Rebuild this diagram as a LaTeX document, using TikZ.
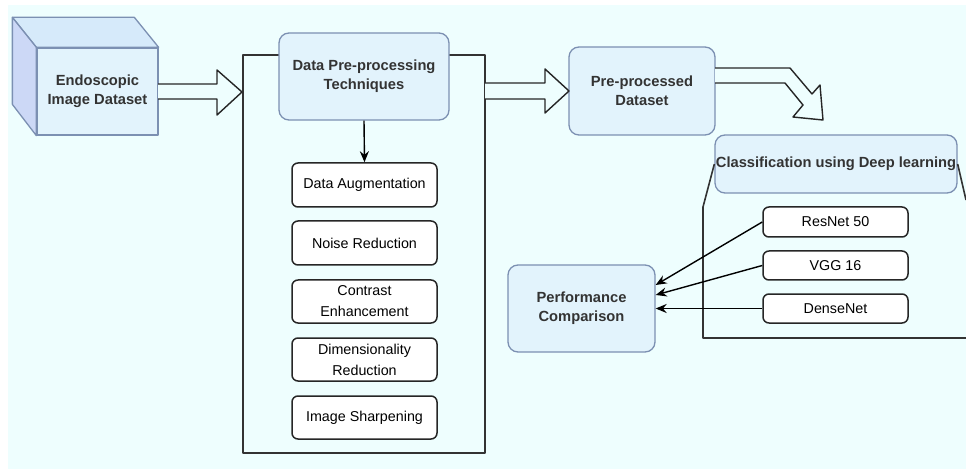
\documentclass[tikz,border=0pt]{standalone}
\usepackage{fontspec}
\setmainfont{Liberation Sans}
\usetikzlibrary{arrows.meta}
\definecolor{bgcyan}{HTML}{EEFEFE}
\definecolor{boxfill}{HTML}{E2F3FC}
\definecolor{boxline}{HTML}{7C90B2}
\definecolor{topface}{HTML}{D6EAFA}
\definecolor{sideface}{HTML}{CCD8F6}
\definecolor{labelgray}{HTML}{333333}
\begin{document}
\begin{tikzpicture}[x=1pt, y=-1pt, line join=round, >={Stealth[length=11pt, width=9pt]},
	bluebox/.style={draw=boxline, fill=boxfill, line width=1.3pt, rounded corners=10pt, align=center,
		text=labelgray, font=\fontsize{14.7}{19}\selectfont\bfseries, inner sep=0pt},
	stepbox/.style={draw=black!85, fill=white, line width=1.5pt, rounded corners=6pt, align=center,
		font=\fontsize{14.3}{21}\selectfont, minimum width=145pt, inner sep=0pt},
	frame/.style={draw=black!80, line width=1.6pt},
	blockarrow/.style={draw=black!85, fill=bgcyan, line width=1.4pt}]
	\fill[white] (0,0) rectangle (966,470);
	\fill[bgcyan] (8,5) rectangle (966,469);
	\useasboundingbox (0,0) rectangle (966,470);
	% input dataset cube
	\node[bluebox, rounded corners=0pt, minimum width=121pt, minimum height=87pt] (eid) at (97.5,91.5) {Endoscopic\\Image Dataset};
	\fill[topface, draw=boxline, line width=1.3pt] (eid.north west) -- ++(-24,-30) -- ++(122,0) -- (eid.north east) -- cycle;
	\fill[sideface, draw=boxline, line width=1.3pt] (eid.north west) -- ++(-24,-30) -- ++(0,87) -- (eid.south west) -- cycle;
	% pre-processing block
	\draw[frame] (243,55) rectangle (485,453);
	\node[bluebox, minimum width=170pt, minimum height=87pt] (dpt) at (364,76.5) {Data Pre-processing\\Techniques};
	\node[stepbox, minimum height=44pt] (aug) at (364.5,185) {Data Augmentation};
	\node[stepbox, minimum height=44pt] (noise) at (364.5,243) {Noise Reduction};
	\node[stepbox, minimum height=43pt] (contrast) at (364.5,301.5) {Contrast\\Enhancement};
	\node[stepbox, minimum height=43pt] (dimred) at (364.5,359.5) {Dimensionality\\Reduction};
	\node[stepbox, minimum height=43pt] (sharp) at (364.5,417.5) {Image Sharpening};
	\draw[->, line width=1.4pt] (dpt.south) -- (aug.north);
	% pre-processed data
	\node[bluebox, minimum width=146pt, minimum height=88pt] (ppd) at (642,91) {Pre-processed\\Dataset};
	% classification block
	\node[bluebox, minimum width=242pt, minimum height=58pt] (cls) at (836,164) {Classification using Deep learning};
	\draw[frame] (cls.west) -- (703,207) -- (703,338) -- (966,338);
	\draw[frame] (cls.east) -- (966,200);
	\node[stepbox, minimum height=30pt, font=\fontsize{14.3}{16}\selectfont] (resnet) at (835.5,222) {ResNet 50};
	\node[stepbox, minimum height=29pt, font=\fontsize{14.3}{16}\selectfont] (vgg) at (835.5,265.5) {VGG 16};
	\node[stepbox, minimum height=29pt, font=\fontsize{14.3}{16}\selectfont] (dense) at (835.5,308.5) {DenseNet};
	\node[bluebox, minimum width=147pt, minimum height=87pt] (perf) at (581.5,308.5) {Performance\\Comparison};
	\draw[->, line width=1.4pt] (resnet.west) -- ([yshift=23.5pt]perf.east);
	\draw[->, line width=1.4pt] (vgg.west) -- ([yshift=13.5pt]perf.east);
	\draw[->, line width=1.4pt] (dense.west) -- (perf.east);
	% block arrows
	\draw[blockarrow] (158,84) -- (217,84) -- (217,70) -- (242,92) -- (217,115) -- (217,99) -- (158,99);
	\draw[blockarrow] (485,83) -- (545,83) -- (545,69) -- (569,91) -- (545,113) -- (545,99) -- (485,99);
	\draw[blockarrow] (715,68) -- (790,68) -- (812,94) -- (820,85) -- (823,120) -- (793,117) -- (803,105) -- (785,83) -- (715,83);
\end{tikzpicture}
\end{document}
